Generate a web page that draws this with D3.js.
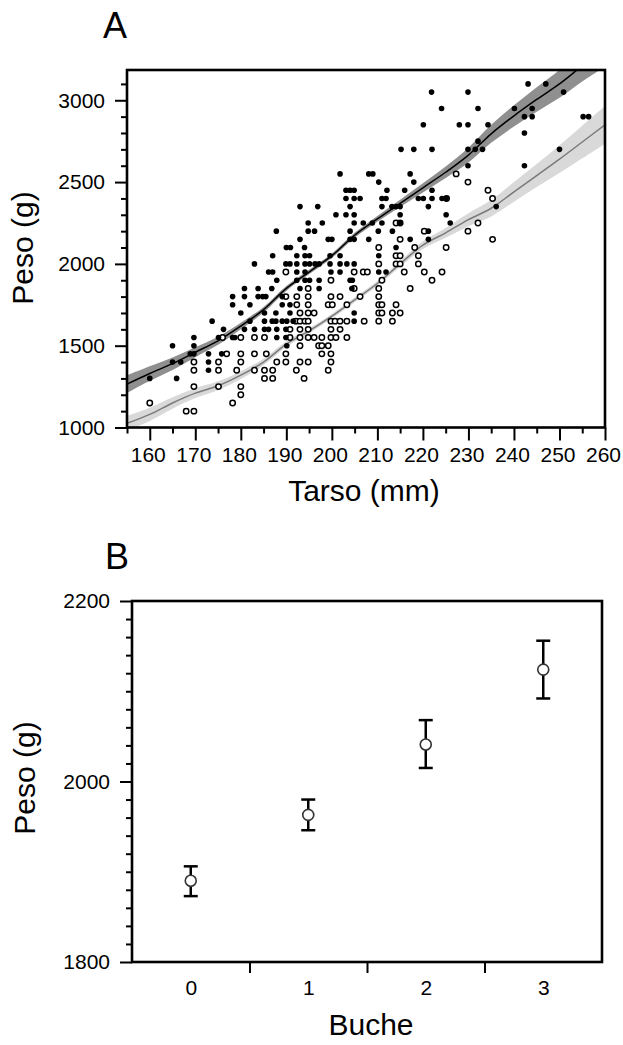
<!DOCTYPE html>
<html><head><meta charset="utf-8">
<script src="https://cdn.jsdelivr.net/npm/d3@7"></script>
<style>body{margin:0;background:#fff}svg{display:block}text{font-family:"Liberation Sans",Arial,sans-serif;fill:#000}</style>
</head><body>
<svg id="c" width="623" height="1045"></svg>
<script>
// ---------- DATA ----------
const tarsoTicks = [160,170,180,190,200,210,220,230,240,250,260];
const pesoTicksA = [1000,1500,2000,2500,3000];
// filled points (Tarso mm, Peso g)
const machos = [
[243.1,3100],[247.0,3100],
[221.9,3050],[229.9,3050],[250.9,3050],
[224.1,2950],[232.1,2950],[240.1,2950],[244.0,2950],
[242.3,2900],[244.0,2900],[255.2,2900],[256.4,2900],
[220.1,2850],[228.0,2850],[229.9,2850],[234.3,2850],
[242.3,2800],[232.1,2750],
[215.2,2700],[218.0,2700],[222.0,2700],[229.9,2700],[231.5,2700],[233.1,2700],[250.0,2700],
[229.9,2600],[242.3,2600],
[201.8,2550],[208.1,2550],[209.0,2550],[217.2,2550],
[210.3,2500],[218.0,2500],
[203.1,2450],[204.0,2450],[204.9,2450],[212.1,2450],[216.0,2450],[222.0,2450],
[203.1,2400],[204.9,2400],[206.2,2400],[211.0,2400],[211.9,2400],[219.0,2400],[220.1,2400],[222.0,2400],[224.2,2400],[225.1,2400],
[193.0,2350],[196.9,2350],[204.0,2350],[211.0,2350],[213.2,2350],[214.1,2350],[215.0,2350],[221.2,2350],[236.1,2350],
[200.9,2300],[203.1,2300],[204.9,2300],[215.0,2300],[225.1,2300],
[194.8,2250],[197.9,2250],[204.9,2250],[206.9,2250],[208.9,2250],[211.0,2250],[215.0,2250],[226.0,2250],
[187.8,2200],[194.8,2200],[196.2,2200],[204.0,2200],[210.2,2200],[213.3,2200],[221.2,2200],
[193.0,2150],[199.2,2150],[200.0,2150],[204.0,2150],[204.9,2150],[208.1,2150],[217.2,2150],[221.2,2150],
[190.0,2100],[190.9,2100],[194.0,2100],[214.1,2100],
[187.0,2050],[192.3,2050],[194.1,2050],[195.1,2050],[199.6,2050],[201.8,2050],[210.3,2050],
[183.0,2000],[189.9,2000],[190.8,2000],[192.3,2000],[194.1,2000],[195.1,2000],[196.3,2000],[197.2,2000],[199.6,2000],[201.8,2000],[203.3,2000],[204.9,2000],
[186.1,1950],[187.0,1950],[192.3,1950],[194.1,1950],[199.8,1950],[201.8,1950],[210.3,1950],[211.9,1950],
[187.9,1900],[192.3,1900],[194.1,1900],[195.1,1900],[197.2,1900],[204.0,1900],[204.5,1900],
[180.8,1850],[183.8,1850],[186.8,1850],[193.0,1850],[197.2,1850],[204.4,1850],
[178.2,1800],[180.8,1800],[183.8,1800],[184.8,1800],[185.5,1800],[189.1,1800],
[178.2,1750],[182.0,1750],[189.1,1750],[190.8,1750],
[180.0,1700],[185.2,1700],[187.7,1700],[190.8,1700],[204.9,1700],
[173.7,1650],[182.0,1650],[185.2,1650],[186.9,1650],[187.7,1650],[189.1,1650],[190.1,1650],[191.5,1650],[204.9,1650],
[176.2,1600],[180.8,1600],[183.0,1600],[185.2,1600],[186.1,1600],[187.9,1600],[189.9,1600],
[169.7,1550],[175.1,1550],[178.2,1550],[178.7,1550],[187.9,1550],[189.9,1550],
[165.0,1500],[169.7,1500],[190.1,1500],
[168.9,1450],[169.7,1450],[172.9,1450],[175.8,1450],
[165.0,1400],[166.8,1400],[172.9,1400],
[172.9,1350],[160.0,1300],[165.9,1300]
];
// open points
const hembras = [
[227.3,2550],[229.9,2500],[234.3,2450],[235.3,2400],[225.2,2400],
[214.1,2250],[215.0,2250],[232.1,2250],[229.9,2200],[220.3,2200],[235.3,2150],[215.0,2150],
[210.3,2100],[218.2,2100],[225.1,2100],
[214.1,2050],[215.0,2050],[219.0,2050],
[210.3,2000],[214.1,2000],[215.0,2000],[219.0,2000],
[189.9,1950],[204.9,1950],[206.9,1950],[207.8,1950],[215.9,1950],[220.3,1950],[224.2,1950],
[199.8,1900],[211.0,1900],[222.0,1900],
[194.8,1850],[204.9,1850],[210.3,1850],[217.2,1850],
[189.9,1800],[192.3,1800],[194.8,1800],[199.8,1800],[201.8,1800],[206.2,1800],[210.3,1800],
[192.3,1750],[194.8,1750],[199.2,1750],[200.1,1750],[203.3,1750],[210.3,1750],[211.0,1750],[214.1,1750],
[193.0,1700],[194.8,1700],[196.1,1700],[210.3,1700],[211.0,1700],[213.3,1700],[215.0,1700],
[192.1,1650],[193.0,1650],[194.1,1650],[194.8,1650],[199.8,1650],[200.7,1650],[201.8,1650],[203.3,1650],[207.1,1650],[210.3,1650],[213.3,1650],
[190.8,1600],[193.0,1600],[194.8,1600],[199.8,1600],[201.8,1600],
[176.0,1550],[180.0,1550],[183.0,1550],[185.2,1550],[190.8,1550],[193.0,1550],[194.8,1550],[196.1,1550],[197.8,1550],[199.8,1550],[200.9,1550],[203.3,1550],
[193.0,1500],[197.1,1500],[197.8,1500],[199.2,1500],
[176.9,1450],[180.0,1450],[183.0,1450],[185.6,1450],[189.9,1450],[197.8,1450],[199.8,1450],
[169.7,1400],[175.1,1400],[180.0,1400],[187.9,1400],[189.9,1400],[193.0,1400],[194.8,1400],[199.8,1400],
[169.7,1350],[175.1,1350],[179.1,1350],[183.0,1350],[185.2,1350],[187.0,1350],[192.2,1350],[199.2,1350],
[185.2,1300],[187.0,1300],[193.9,1300],
[169.7,1250],[175.1,1250],[180.0,1250],
[180.0,1200],[160.0,1150],[178.2,1150],[168.0,1100],[169.7,1100]
];
// fitted curves and confidence half-widths
const fitTarso   = [155,160,165,170,175,180,185,190,195,200,205,210,215,220,225,230,235,240,245,250,255,260];
const fitMachos  = [1265,1330,1390,1460,1530,1620,1720,1850,1950,2050,2175,2275,2370,2465,2560,2665,2795,2905,3005,3100,3210,3310];
const ciMachos   = [55,45,38,30,25,20,17,15,14,14,15,18,22,28,35,45,55,65,75,85,95,105];
const fitHembras = [1025,1080,1150,1210,1255,1320,1400,1510,1590,1680,1780,1880,2000,2115,2190,2270,2340,2440,2540,2640,2745,2850];
const ciHembras  = [45,40,35,30,27,24,20,17,15,14,14,15,18,24,30,40,50,60,70,85,100,115];

// Panel B
const buche     = [0,1,2,3];
const pesoMedia = [1890,1963,2041,2124];
const errInf    = [1873,1946,2015,2092];
const errSup    = [1906,1980,2068,2156];
const pesoTicksB = [1800,2000,2200];

// ---------- DRAW ----------
const svg = d3.select("#c");

// ===== Panel A =====
const A = {l:127, r:605, t:70, b:427.5};
const xA = d3.scaleLinear().domain([155,260]).range([A.l,A.r]);
const yA = d3.scaleLinear().domain([1000,3185]).range([A.b,A.t]);

svg.append("clipPath").attr("id","clipA").append("rect")
  .attr("x",A.l).attr("y",A.t).attr("width",A.r-A.l).attr("height",A.b-A.t);

const gA = svg.append("g").attr("clip-path","url(#clipA)");
const fitH = fitTarso.map((x,i)=>({x, y:fitHembras[i], lo:fitHembras[i]-ciHembras[i], hi:fitHembras[i]+ciHembras[i]}));
const fitM = fitTarso.map((x,i)=>({x, y:fitMachos[i], lo:fitMachos[i]-ciMachos[i], hi:fitMachos[i]+ciMachos[i]}));
const area = d3.area().x(d=>xA(d.x)).y0(d=>yA(d.lo)).y1(d=>yA(d.hi)).curve(d3.curveCatmullRom);
const line = d3.line().x(d=>xA(d.x)).y(d=>yA(d.y)).curve(d3.curveCatmullRom);
gA.append("path").datum(fitH).attr("d",area).attr("fill","#d9d9d9");
gA.append("path").datum(fitM).attr("d",area).attr("fill","#8f8f8f");
gA.append("path").datum(fitH).attr("d",line).attr("fill","none").attr("stroke","#7a7a7a").attr("stroke-width",1.5);
gA.append("path").datum(fitM).attr("d",line).attr("fill","none").attr("stroke","#000").attr("stroke-width",1.5);

gA.selectAll("circle.h").data(hembras).join("circle").attr("class","h")
  .attr("cx",d=>xA(d[0])).attr("cy",d=>yA(d[1])).attr("r",2.7)
  .attr("fill","#fff").attr("stroke","#000").attr("stroke-width",1.5);
gA.selectAll("circle.m").data(machos).join("circle").attr("class","m")
  .attr("cx",d=>xA(d[0])).attr("cy",d=>yA(d[1])).attr("r",2.8).attr("fill","#000");

// axes A
function styleAxis(g){ g.select(".domain").remove(); g.selectAll(".tick line").attr("stroke","#000").attr("stroke-width",2); }
const minorYA = d3.range(1000,3101,100).filter(v=>!pesoTicksA.includes(v));
svg.append("g").attr("transform",`translate(${A.l},0)`)
  .call(d3.axisLeft(yA).tickValues(minorYA).tickSize(6).tickFormat(""))
  .call(styleAxis);
svg.append("g").attr("transform",`translate(${A.l},0)`)
  .call(d3.axisLeft(yA).tickValues(pesoTicksA).tickSize(12).tickPadding(10).tickFormat(d3.format("d")))
  .call(styleAxis).call(g=>g.selectAll("text").attr("font-size",21));
const minorXA = d3.range(155,261,5).filter(v=>!tarsoTicks.includes(v));
svg.append("g").attr("transform",`translate(0,${A.b})`)
  .call(d3.axisBottom(xA).tickValues(minorXA).tickSize(6).tickFormat(""))
  .call(styleAxis);
svg.append("g").attr("transform",`translate(0,${A.b})`)
  .call(d3.axisBottom(xA).tickValues(tarsoTicks).tickSize(13).tickPadding(7).tickFormat(d3.format("d")))
  .call(styleAxis).call(g=>g.selectAll("text").attr("font-size",21).attr("dx",-2));
svg.append("rect").attr("x",A.l).attr("y",A.t).attr("width",A.r-A.l).attr("height",A.b-A.t)
  .attr("fill","none").attr("stroke","#000").attr("stroke-width",2.6);

svg.append("text").attr("x",115).attr("y",38).attr("text-anchor","middle").attr("font-size",36).text("A");
svg.append("text").attr("x",364).attr("y",501).attr("text-anchor","middle").attr("font-size",30).text("Tarso (mm)");
svg.append("text").attr("transform","translate(33,248) rotate(-90)").attr("text-anchor","middle").attr("font-size",30).text("Peso (g)");

// ===== Panel B =====
const B = {l:132, r:602, t:601, b:962};
const xB = d3.scaleLinear().domain([-0.5,3.5]).range([B.l,B.r]);
const yB = d3.scaleLinear().domain([1800,2200]).range([B.b,B.t]);

const minorYB = d3.range(1800,2201,20).filter(v=>!pesoTicksB.includes(v));
svg.append("g").attr("transform",`translate(${B.l},0)`)
  .call(d3.axisLeft(yB).tickValues(minorYB).tickSize(6).tickFormat(""))
  .call(styleAxis);
svg.append("g").attr("transform",`translate(${B.l},0)`)
  .call(d3.axisLeft(yB).tickValues(pesoTicksB).tickSize(12).tickPadding(10).tickFormat(d3.format("d")))
  .call(styleAxis).call(g=>g.selectAll("text").attr("font-size",21));
svg.append("g").attr("transform",`translate(0,${B.b})`)
  .call(d3.axisBottom(xB).tickValues([0.5,1.5,2.5]).tickSize(11).tickFormat(""))
  .call(styleAxis);
svg.append("g").attr("transform",`translate(0,${B.b})`)
  .call(d3.axisBottom(xB).tickValues(buche).tickSize(0).tickPadding(18).tickFormat(d3.format("d")))
  .call(styleAxis).call(g=>g.selectAll("text").attr("font-size",21));
svg.append("rect").attr("x",B.l).attr("y",B.t).attr("width",B.r-B.l).attr("height",B.b-B.t)
  .attr("fill","none").attr("stroke","#000").attr("stroke-width",2.6);

const gB = svg.append("g");
buche.forEach((b,i)=>{
  const cx = xB(b);
  gB.append("line").attr("x1",cx).attr("x2",cx).attr("y1",yB(errInf[i])).attr("y2",yB(errSup[i])).attr("stroke","#000").attr("stroke-width",2.5);
  [errInf[i],errSup[i]].forEach(v=>gB.append("line").attr("x1",cx-7).attr("x2",cx+7).attr("y1",yB(v)).attr("y2",yB(v)).attr("stroke","#000").attr("stroke-width",2.5));
});
gB.selectAll("circle").data(buche).join("circle")
  .attr("cx",d=>xB(d)).attr("cy",(d,i)=>yB(pesoMedia[i])).attr("r",5.5)
  .attr("fill","#fff").attr("stroke","#333").attr("stroke-width",1.6);

svg.append("text").attr("x",117).attr("y",569).attr("text-anchor","middle").attr("font-size",36).text("B");
svg.append("text").attr("x",371).attr("y",1035).attr("text-anchor","middle").attr("font-size",30).text("Buche");
svg.append("text").attr("transform","translate(35,778) rotate(-90)").attr("text-anchor","middle").attr("font-size",30).text("Peso (g)");
</script>
</body></html>
